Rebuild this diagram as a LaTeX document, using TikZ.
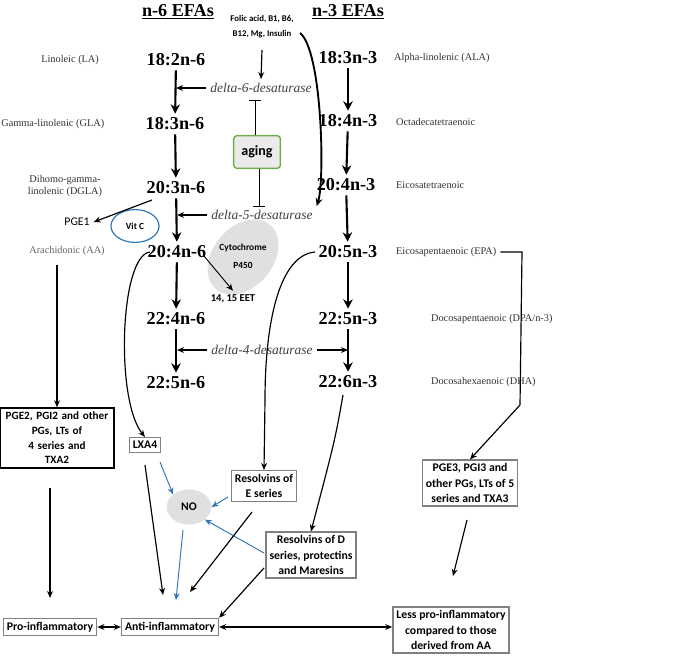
\documentclass[tikz,border=0pt]{standalone}
\usepackage{fontspec}
\setmainfont{Carlito}
\newfontfamily\srf{Liberation Serif}
\usetikzlibrary{arrows.meta,shapes.geometric}
\definecolor{myblue}{RGB}{47,117,181}
\definecolor{mygrey}{RGB}{128,128,128}
\definecolor{mygreen}{RGB}{112,173,71}
\begin{document}
\begin{tikzpicture}[x=0.03cm,y=-0.03cm,
 fa/.style={font=\srf\fontsize{15.5}{17}\selectfont\bfseries},
 lab/.style={font=\srf\fontsize{8.8}{10.5}\selectfont,text=black!80,align=center},
 des/.style={font=\srf\itshape\fontsize{11.5}{13}\selectfont,text=black!75},
 box/.style={draw=mygrey,line width=1.2pt,font=\bfseries\fontsize{10}{13}\selectfont,align=center,inner sep=3pt},
 chain/.style={line width=1.8pt,-{Stealth[length=8pt,width=8pt]}},
 arr/.style={line width=1pt,-{Stealth[length=6pt,width=5pt]}},
 barr/.style={line width=0.8pt,myblue,-{Stealth[length=6pt,width=5pt]}},
 inh/.style={line width=0.8pt,-{Bar[width=10pt]}}]
\useasboundingbox (0,0) rectangle (685,668);
% titles
\node[font=\srf\fontsize{15.5}{17}\selectfont\bfseries] (t6) at (178,12) {\underline{n-6 EFAs}};
\node[font=\srf\fontsize{15.5}{17}\selectfont\bfseries] (t3) at (348,12) {\underline{n-3 EFAs}};
\node[font=\bfseries\fontsize{7.5}{13}\selectfont,align=center] (fol) at (262,27) {Folic acid, B1, B6,\\B12, Mg, Insulin};
% n-6
\node[fa] (a1) at (176,60) {18:2n-6};
\node[fa] (a2) at (175,124) {18:3n-6};
\node[fa] (a3) at (176,188) {20:3n-6};
\node[fa] (a4) at (177,252) {20:4n-6};
\node[fa] (a5) at (176,319) {22:4n-6};
\node[fa] (a6) at (176,383) {22:5n-6};
% n-3
\node[fa] (b1) at (348,58) {18:3n-3};
\node[fa] (b2) at (348,121) {18:4n-3};
\node[fa] (b3) at (346,185) {20:4n-3};
\node[fa] (b4) at (348,252) {20:5n-3};
\node[fa] (b5) at (348,319) {22:5n-3};
\node[fa] (b6) at (348,382) {22:6n-3};
\foreach \x in {a,b}{
 \foreach \i/\j in {1/2,2/3,3/4,4/5,5/6}{\draw[chain] (\x\i) -- (\x\j);}}
% left labels
\node[lab,anchor=east] (l1) at (103,60) {Linoleic (LA)};
\node[lab,anchor=west,inner sep=1pt] (l2) at (0,124) {Gamma-linolenic (GLA)};
\node[lab] (l3) at (65,186) {Dihomo-gamma-\\linolenic (DGLA)};
\node[lab,text=black!60] (l4) at (67,251) {Arachidonic (AA)};
% right labels
\node[lab,anchor=west] (r1) at (390,58) {Alpha-linolenic (ALA)};
\node[lab,anchor=west] (r2) at (392,122) {Octadecatetraenoic};
\node[lab,anchor=west] (r3) at (392,185) {Eicosatetraenoic};
\node[lab,anchor=west] (r4) at (392,252) {Eicosapentaenoic (EPA)};
\node[lab,anchor=west] (r5) at (427,319) {Docosapentaenoic (DPA/n-3)};
\node[lab,anchor=west] (r6) at (427,382) {Docosahexaenoic (DHA)};
% desaturases
\node[des] (d6) at (261,88) {delta-6-desaturase};
\node[des] (d5) at (262,215) {delta-5-desaturase};
\node[des] (d4) at (262,350) {delta-4-desaturase};
\coordinate (c6) at (176,88);
\coordinate (c5) at (177,215);
\coordinate (c4a) at (177,350);
\coordinate (c4b) at (348,350);
\draw[arr] (d6.west) -- (c6);
\draw[arr] (d5.west) -- (c5);
\draw[arr] (d4.west) -- (c4a);
\draw[arr] (d4.east) -- (c4b);
\coordinate (f1) at (262,50);
\draw[arr] (f1) -- (d6.north);
\node[draw=mygreen,fill=black!8,line width=1.2pt,rounded corners=3pt,minimum width=40pt,minimum height=28pt,font=\bfseries\fontsize{12}{14}\selectfont] (age) at (257,152) {aging};
\coordinate (i6) at (255,100);
\coordinate (i5) at (259,207);
\draw[inh] (age.north -| i6) -- (i6);
\draw[inh] (age.south -| i5) -- (i5);
\coordinate (f2) at (300,33);
\draw[line width=1.6pt,-{Stealth[length=7pt,width=6pt]}] (f2) .. controls (322,50) and (325,180) .. (d5.north east);
% PGE1, vit C
\node[font=\fontsize{10}{12}\selectfont] (pge1) at (77,222) {PGE1};
\node[draw=myblue,line width=1pt,ellipse,minimum width=41pt,minimum height=28pt,inner sep=0pt,font=\bfseries\fontsize{8}{10}\selectfont] (vc) at (135,226) {Vit C};
\coordinate (p1) at (152,200);
\draw[arr] (p1) -- (pge1.east);
% cytochrome
\fill[black!12,rotate around={-40:(243,257)}] (243,257) ellipse (30 and 42);
\node[font=\bfseries\fontsize{8}{15}\selectfont,align=center] (cyt) at (243,256) {Cytochrome\\P450};
\node[font=\bfseries\fontsize{9}{10}\selectfont] (eet) at (233,299) {14, 15 EET};
\coordinate (e1) at (204,256);
\draw[line width=0.8pt,-{Stealth[length=6pt,width=5pt]}] (e1) -- (eet.north);
% boxes
\node[draw,line width=1.6pt,font=\bfseries\fontsize{9.5}{12.5}\selectfont,align=center,text width=90pt] (pge2) at (57,438) {PGE2, PGI2 and other\\PGs, LTs of 4 series and\\TXA2};
\node[box] (lxa) at (145,445) {LXA4};
\node[box] (rese) at (264,486) {Resolvins of\\E series};
\node[box] (resd) at (311,555) {Resolvins of D\\series, protectins\\and Maresins};
\node[box] (pge3) at (470,483) {PGE3, PGI3 and\\other PGs, LTs of 5\\series and TXA3};
\node[fill=black!12,ellipse,minimum width=38pt,minimum height=30pt,font=\bfseries\fontsize{10}{12}\selectfont,inner sep=0pt] (no) at (189,507) {NO};
\node[box] (pro) at (50,627) {Pro-inflammatory};
\node[box] (anti) at (170,627) {Anti-inflammatory};
\node[box] (less) at (451,630) {Less pro-inflammatory\\compared to those\\derived from AA};
% connections
\coordinate (aa1) at (57,265);
\draw[arr] (aa1) -- (pge2.north);
\coordinate (x1) at (150,252);
\draw[arr] (x1) .. controls (120,255) and (115,400) .. (lxa.north);
\coordinate (x2) at (315,252);
\draw[arr] (x2) .. controls (280,255) and (265,320) .. (265,400) -- (rese.north);
\coordinate (x3) at (343,395);
\draw[arr] (x3) .. controls (335,440) .. (resd.north);
\coordinate (ep1) at (522,252);
\coordinate (ep2) at (520,405);
\draw[line width=1pt] (r4.east) -- (ep1) -- (ep2);
\draw[arr] (ep2) -- (pge3.north);
\coordinate (pb) at (50,488);
\coordinate (pt) at (50,598);
\draw[arr] (pb) -- (pt);
\coordinate (lx0) at (145,465);
\coordinate (lx1) at (163,595);
\draw[arr] (lx0) -- (lx1);
\coordinate (lx2) at (160,462);
\draw[barr] (lx2) -- (no.north west);
\coordinate (n1) at (183,530);
\coordinate (n2) at (176,600);
\draw[barr] (n1) -- (n2);
\coordinate (re1) at (228,497);
\draw[barr] (re1) -- (no.east);
\coordinate (rd1) at (264,553);
\draw[barr] (rd1) -- (no.south east);
\coordinate (re2) at (252,512);
\coordinate (re3) at (190,592);
\draw[arr] (re2) -- (re3);
\coordinate (rd2) at (264,568);
\draw[arr] (rd2) -- (anti.north east);
\coordinate (pg1) at (467,520);
\coordinate (pg2) at (453,576);
\draw[arr] (pg1) -- (pg2);
\draw[line width=1.3pt,{Stealth[length=6pt,width=5pt]}-{Stealth[length=6pt,width=5pt]}] (pro) -- (anti);
\draw[line width=1pt,{Stealth[length=6pt,width=5pt]}-{Stealth[length=6pt,width=5pt]}] (anti.east) -- (less.west |- anti.east);
\end{tikzpicture}
\end{document}
